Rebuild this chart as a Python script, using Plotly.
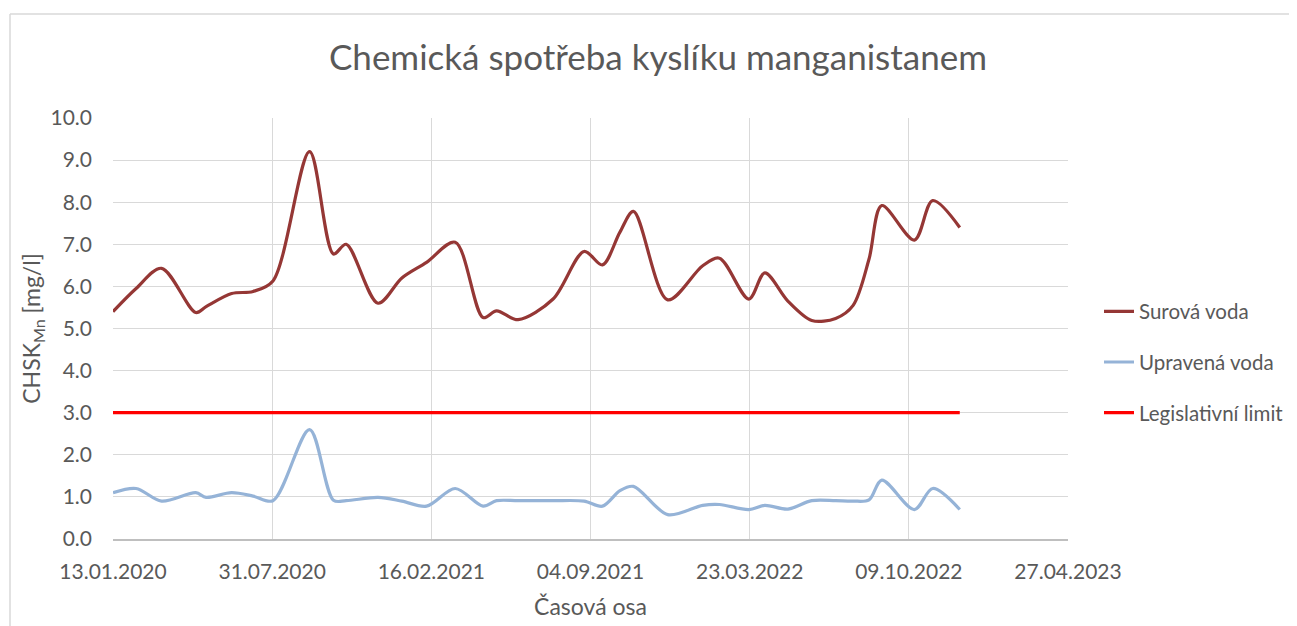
import plotly.graph_objects as go

dates = ["2020-01-13", "2020-02-11", "2020-03-14", "2020-04-26", "2020-05-09", "2020-06-10",
         "2020-07-07", "2020-08-01", "2020-09-16", "2020-10-16", "2020-11-01", "2020-12-11",
         "2021-01-10", "2021-02-10", "2021-03-18", "2021-04-22", "2021-05-09", "2021-06-05",
         "2021-07-19", "2021-08-27", "2021-09-19", "2021-10-11", "2021-10-28", "2021-12-10",
         "2022-01-23", "2022-02-13", "2022-03-22", "2022-04-11", "2022-05-10", "2022-06-09",
         "2022-07-09", "2022-07-31", "2022-08-20", "2022-09-05", "2022-10-16", "2022-11-08",
         "2022-12-12"]

surova = [5.40, 5.95, 6.43, 5.38, 5.52, 5.83,
          5.88, 6.13, 9.20, 6.77, 7.00, 5.60,
          6.20, 6.57, 7.05, 5.26, 5.42, 5.21,
          5.70, 6.83, 6.51, 7.29, 7.78, 5.68,
          6.49, 6.67, 5.70, 6.32, 5.65, 5.19,
          5.24, 5.55, 6.65, 7.92, 7.10, 8.04,
          7.40]

upravena = [1.10, 1.20, 0.90, 1.10, 0.99, 1.10,
            1.02, 0.91, 2.60, 0.92, 0.91, 0.99,
            0.90, 0.78, 1.20, 0.78, 0.91, 0.91,
            0.91, 0.90, 0.78, 1.15, 1.25, 0.58,
            0.80, 0.82, 0.70, 0.80, 0.71, 0.91,
            0.91, 0.90, 0.93, 1.40, 0.70, 1.20,
            0.70]

limit = [3.0] * len(dates)

tick_dates = ["2020-01-13", "2020-07-31", "2021-02-16", "2021-09-04",
              "2022-03-23", "2022-10-09", "2023-04-27"]
tick_labels = ["13.01.2020", "31.07.2020", "16.02.2021", "04.09.2021",
               "23.03.2022", "09.10.2022", "27.04.2023"]
y_ticks = [0, 1, 2, 3, 4, 5, 6, 7, 8, 9, 10]
y_labels = ["0.0", "1.0", "2.0", "3.0", "4.0", "5.0", "6.0", "7.0", "8.0", "9.0", "10.0"]

FONT = "Lato, 'Open Sans', sans-serif"
TXT = "#595959"

fig = go.Figure()
fig.add_trace(go.Scatter(x=dates, y=surova, name="Surová voda", mode="lines",
                         line=dict(color="#953735", width=3.2, shape="spline", smoothing=0.9),
                         legendgroup="a"))
fig.add_trace(go.Scatter(x=dates, y=upravena, name="Upravená voda", mode="lines",
                         line=dict(color="#95B3D7", width=3.2, shape="spline", smoothing=0.9),
                         legendgroup="b"))
fig.add_trace(go.Scatter(x=dates, y=limit, name="Legislativní limit", mode="lines",
                         line=dict(color="#FF0000", width=3.2), legendgroup="c"))

OFF = 8  # page body margin
W, H = 1297 - OFF, 626 - OFF
L, R, T, B = 113 - OFF, 1068 - OFF, 118 - OFF, 539 - OFF
pw, ph = R - L, B - T

def px_x(px):
    return (px - OFF - L) / pw

def px_y(py):
    return (B - (py - OFF)) / ph

fig.update_layout(
    width=W, height=H,
    margin=dict(l=L, r=W - R, t=T, b=H - B, autoexpand=False),
    paper_bgcolor="white", plot_bgcolor="white",
    font=dict(family=FONT, color=TXT, size=21),
    title=dict(text="Chemická spotřeba kyslíku manganistanem",
               x=(658 - OFF) / W, xanchor="center", y=1 - (58 - OFF) / H, yanchor="middle",
               font=dict(size=35, color=TXT, family=FONT)),
    xaxis=dict(type="date", range=["2020-01-13", "2023-04-27"],
               tickvals=tick_dates, ticktext=tick_labels,
               showgrid=True, gridcolor="#d9d9d9", gridwidth=1.3,
               showline=True, linecolor="#bfbfbf", linewidth=1.5,
               zeroline=False, ticks="", tickfont=dict(size=21, color=TXT),
               ticklabelstandoff=13,
               title=dict(text="Časová osa", font=dict(size=23, color=TXT), standoff=17)),
    yaxis=dict(range=[0, 10], tickvals=y_ticks, ticktext=y_labels,
               showgrid=True, gridcolor="#d9d9d9", gridwidth=1.3,
               zeroline=False, ticks="", tickfont=dict(size=21, color=TXT),
               ticklabelstandoff=20,
               title=dict(text="CHSK<sub>Mn</sub> [mg/l]", font=dict(size=23, color=TXT),
                          standoff=3)),
    legend=dict(x=px_x(1099), xanchor="left", y=px_y(362), yanchor="middle",
                font=dict(size=20.5, color=TXT), traceorder="grouped",
                tracegroupgap=21, bgcolor="rgba(0,0,0,0)"),
    showlegend=True,
)

# outer chart border (light gray, left and top)
fig.add_shape(type="line", xref="paper", yref="paper",
              x0=px_x(10), x1=px_x(1300), y0=px_y(14), y1=px_y(14),
              line=dict(color="#d9d9d9", width=1.5))
fig.add_shape(type="line", xref="paper", yref="paper",
              x0=px_x(10), x1=px_x(10), y0=px_y(14), y1=px_y(630),
              line=dict(color="#d9d9d9", width=1.5))

fig.write_html("out.html")
